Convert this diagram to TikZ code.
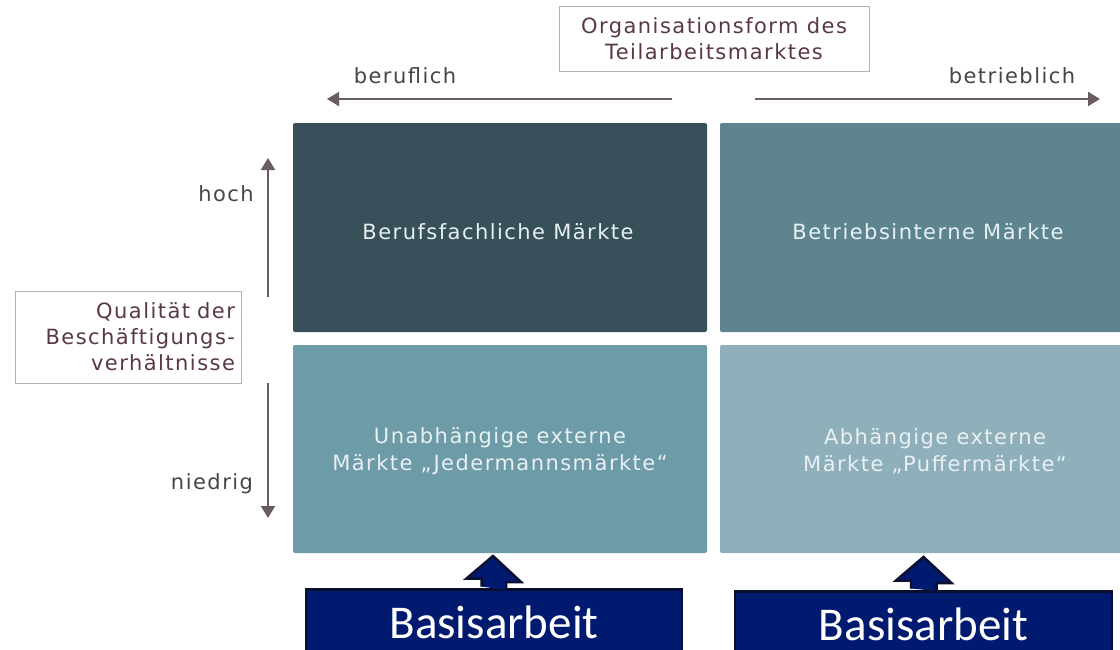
\documentclass[tikz,border=0pt]{standalone}
\usepackage{fontspec}
\setmainfont{DejaVu Sans}
\newfontfamily\calfont{Carlito}
\newfontfamily\pixfont[LetterSpace=7]{DejaVu Sans}
\usetikzlibrary{arrows.meta}
\definecolor{tl}{HTML}{37505A}
\definecolor{tr}{HTML}{5E8490}
\definecolor{bl}{HTML}{6E9BA8}
\definecolor{br}{HTML}{8FB0BB}
\definecolor{boxtxt}{HTML}{E8F0F2}
\definecolor{lbl}{HTML}{4A4446}
\definecolor{maroon}{HTML}{5A3848}
\definecolor{arr}{HTML}{6A5C62}
\definecolor{navy}{HTML}{001A70}
\definecolor{navyline}{HTML}{0A0F30}
\definecolor{frame}{HTML}{B8B0B2}
\tikzset{
  cell/.style={rectangle, rounded corners=2pt, inner sep=0pt, text=boxtxt,
    font=\pixfont\fontsize{21}{27}\selectfont, align=center},
  lab/.style={inner sep=0pt, text=lbl, font=\pixfont\fontsize{21}{26}\selectfont},
  framed/.style={rectangle, draw=frame, line width=0.8pt, fill=white, text=maroon,
    font=\pixfont\fontsize{21}{26}\selectfont, inner sep=0pt},
  axis/.style={draw=arr, line width=2pt, -{Triangle[length=12pt,width=14pt]}},
  basis/.style={rectangle, draw=navyline, line width=2.5pt, fill=navy, text=white,
    font=\calfont\fontsize{47}{50}\selectfont, inner sep=0pt},
  barrow/.style={fill=navy, draw=navyline, line width=2.5pt, line join=miter}
}
\begin{document}
\begin{tikzpicture}[x=1pt,y=-1pt]
\clip (0,0) rectangle (1120,649);
\fill[white] (0,0) rectangle (1120,649);
% cells
\node[cell, fill=tl, minimum width=414pt, minimum height=209pt] (c11) at (500,227.5) {};
\node[cell, fill=tr, minimum width=420pt, minimum height=209pt] (c12) at (930,227.5) {};
\node[cell, fill=bl, minimum width=414pt, minimum height=208pt] (c21) at (500,449) {};
\node[cell, fill=br, minimum width=420pt, minimum height=208pt] (c22) at (930,449) {};
\node[cell] (t11) at (498,232) {Berufsfachliche Märkte};
\node[cell] (t12) at (928,232) {Betriebsinterne Märkte};
\node[cell] (t21) at (500,451) {Unabhängige externe\\Märkte „Jedermannsmärkte“};
\node[cell] (t22) at (935,451) {Abhängige externe\\Märkte „Puffermärkte“};
% title
\node[framed, minimum width=310pt, minimum height=65pt, align=center] (title) at (714,38.5) {Organisationsform des\\Teilarbeitsmarktes};
\coordinate (hl0) at (672,99);
\coordinate (hl1) at (327,99);
\coordinate (hr0) at (755,99);
\coordinate (hr1) at (1100,99);
\draw[axis] (hl0) -- (hl1);
\draw[axis] (hr0) -- (hr1);
\node[lab] (beruf) at (405,76) {beruflich};
\node[lab] (betrieb) at (1012,76) {betrieblich};
% vertical
\coordinate (vu0) at (268,297);
\coordinate (vu1) at (268,158);
\coordinate (vd0) at (268,383);
\coordinate (vd1) at (268,518);
\draw[axis] (vu0) -- (vu1);
\draw[axis] (vd0) -- (vd1);
\node[lab] (hoch) at (226,194) {hoch};
\node[lab] (niedrig) at (212,484) {niedrig};
\node[framed, minimum width=226pt, minimum height=92pt, align=right, text width=214pt] (qual) at (128,337) {Qualität der\\Beschäftigungs-\\verhältnisse};
% Basisarbeit
\node[basis, minimum width=376pt, minimum height=80pt, anchor=north] (b1) at (494,588) {\raisebox{14pt}{Basisarbeit}};
\node[basis, minimum width=377pt, minimum height=80pt, anchor=north] (b2) at (923.5,590) {\raisebox{14pt}{Basisarbeit}};
\draw[barrow] ([xshift=-12.5pt,yshift=1.5pt]b1.north) -- ++(0,-8) -- ++(-15,0) -- (493,556) -- (521,582) -- ++(-15,0) -- ++(0,8);
\draw[barrow] ([xshift=-12.5pt,yshift=1.5pt]b2.north) -- ++(0,-8) -- ++(-15,0) -- (923.5,557) -- (951.5,583) -- ++(-15,0) -- ++(0,8);
\end{tikzpicture}
\end{document}
